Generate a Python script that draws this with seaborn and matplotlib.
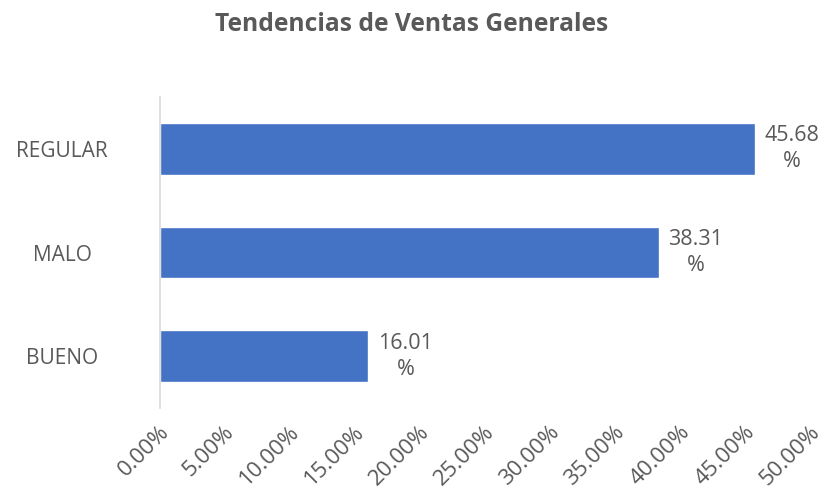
import pandas as pd
import matplotlib.pyplot as plt
import seaborn as sns
from matplotlib.ticker import FuncFormatter
import matplotlib.transforms as mtransforms

sns.set_style('white')
plt.rcParams['font.family'] = ['Open Sans', 'DejaVu Sans']

# datos
categorias = ['REGULAR', 'MALO', 'BUENO']
porcentajes = [45.68, 38.31, 16.01]
ticks_x = [0, 5, 10, 15, 20, 25, 30, 35, 40, 45, 50]

df = pd.DataFrame({'categoria': categorias, 'pct': porcentajes})

gris = '#595959'
azul = '#4472C4'

fig = plt.figure(figsize=(8.23, 4.93), dpi=100)
ax = fig.add_axes([0.1944, 0.1724, 0.791, 0.6308])

sns.barplot(data=df, y='categoria', x='pct', orient='h', color=azul,
            width=0.5, saturation=1, ax=ax)

ax.set_xlim(0, 50)
ax.set_ylim(2.5, -0.5)
ax.set_xticks(ticks_x)
ax.xaxis.set_major_formatter(FuncFormatter(lambda v, p: f'{v:.2f}%'))
ax.set_xlabel('')
ax.set_ylabel('')
ax.tick_params(axis='x', length=0, colors=gris, labelsize=16)
ax.tick_params(axis='y', length=0, colors=gris, labelsize=15, pad=0)

for lbl in ax.get_xticklabels():
    lbl.set_rotation(45)
    lbl.set_ha('right')
    lbl.set_va('center')
    lbl.set_rotation_mode('anchor')
    lbl.set_transform(lbl.get_transform() +
                      mtransforms.ScaledTranslation(0.06, -0.16, fig.dpi_scale_trans))

# etiquetas del eje y centradas en su espacio
for lbl in ax.get_yticklabels():
    lbl.set_ha('center')
    lbl.set_transform(lbl.get_transform() +
                      mtransforms.ScaledTranslation(-0.98, 0, fig.dpi_scale_trans))

for s in ['top', 'right', 'bottom']:
    ax.spines[s].set_visible(False)
ax.spines['left'].set_color('#D9D9D9')
ax.spines['left'].set_linewidth(1.2)

# etiquetas de datos
for i, v in enumerate(porcentajes):
    ax.text(v + 0.75, i, f'{v:.2f}\n%', ha='left', va='center',
            multialignment='center', fontsize=15.5, color=gris, linespacing=1.3)

fig.suptitle('Tendencias de Ventas Generales', fontsize=17.7, fontweight='bold',
             color=gris, y=0.975)

plt.savefig('out.png', dpi=100)
